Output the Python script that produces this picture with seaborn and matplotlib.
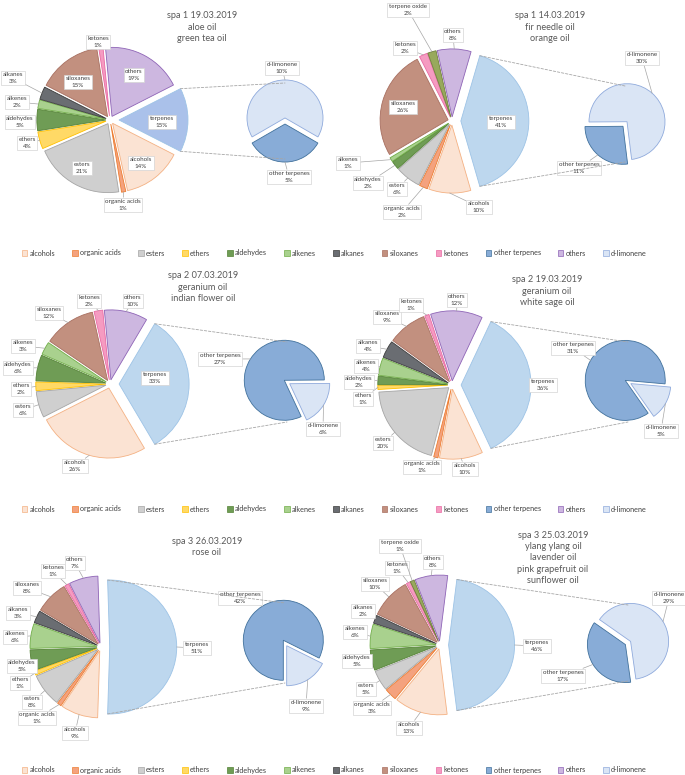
import matplotlib
matplotlib.use("Agg")
import numpy as np
import matplotlib.pyplot as plt
from matplotlib.patches import Patch, ConnectionPatch
import seaborn as sns

W, H = 685, 775

# === Data ===
categories = ["terpenes", "alcohols", "organic acids", "esters", "ethers", "aldehydes",
              "alkenes", "alkanes", "siloxanes", "ketones", "terpene oxide", "others"]
spa1_1903 = [15, 14, 1, 21, 4, 5, 2, 3, 15, 1, 0, 19]
spa1_1403 = [41, 10, 2, 6, 0, 2, 1, 0, 26, 2, 2, 8]
spa2_0703 = [33, 26, 0, 6, 2, 6, 3, 0, 12, 2, 0, 10]
spa2_1903 = [36, 10, 1, 20, 1, 2, 4, 4, 9, 1, 0, 12]
spa3_2603 = [51, 9, 1, 8, 1, 5, 6, 3, 8, 1, 0, 7]
spa3_2503 = [46, 13, 3, 5, 0, 5, 6, 2, 10, 1, 1, 8]

sub_categories = ["d-limonene", "other terpenes"]
sub_spa1_1903 = [10, 5]
sub_spa1_1403 = [30, 11]
sub_spa2_0703 = [6, 27]
sub_spa2_1903 = [5, 31]
sub_spa3_2603 = [9, 42]
sub_spa3_2503 = [29, 17]

titles = ["spa 1 19.03.2019\naloe oil\ngreen tea oil",
          "spa 1 14.03.2019\nfir needle oil\norange oil",
          "spa 2 07.03.2019\ngeranium oil\nindian flower oil",
          "spa 2 19.03.2019\ngeranium oil\nwhite sage oil",
          "spa 3 26.03.2019\nrose oil",
          "spa 3 25.03.2019\nylang ylang oil\nlavender oil\npink grapefruit oil\nsunflower oil"]

legend_names = ["alcohols", "organic acids", "esters", "ethers", "aldehydes", "alkenes",
                "alkanes", "siloxanes", "ketones", "other terpenes", "others", "d-limonene"]

# === Styles ===
FILL = {"terpenes": "#bdd7ee", "alcohols": "#fbe3d3", "organic acids": "#f4a27e",
        "esters": "#cfcfcf", "ethers": "#ffd966", "aldehydes": "#6f9c55",
        "alkenes": "#a9d18e", "alkanes": "#6a6d72", "siloxanes": "#c2907f",
        "ketones": "#f59bc1", "terpene oxide": "#98a95c", "others": "#cdb7e0",
        "d-limonene": "#dae5f5", "other terpenes": "#88acd7"}
EDGE = {"terpenes": "#9dc3e6", "alcohols": "#f4b183", "organic acids": "#ed7d31",
        "esters": "#a5a5a5", "ethers": "#ffc000", "aldehydes": "#548235",
        "alkenes": "#70ad47", "alkanes": "#3b3b3b", "siloxanes": "#a86f60",
        "ketones": "#e96aa3", "terpene oxide": "#6f7f3a", "others": "#8e64b6",
        "d-limonene": "#8faadc", "other terpenes": "#41719c"}
TEXT = "#404040"

# layout per panel (pixel positions in the 685x775 figure)
layouts = [
    dict(main=(110, 120), R=69, sec=(285, 121), r=38, sec_start=-30, title=(202, 27),
         terp="#aac1ea",
         inside={"others", "siloxanes", "esters", "alcohols", "terpenes"},
         labels={"ketones": (98, 42), "others": (134, 75), "siloxanes": (78, 82),
                 "alkanes": (13, 78), "alkenes": (17, 102), "aldehydes": (20, 122),
                 "ethers": (27, 143), "esters": (82, 168), "alcohols": (141, 163),
                 "organic acids": (123, 205), "terpenes": (162, 122),
                 "d-limonene": (282, 68), "other terpenes": (289, 177)}),
    dict(main=(452, 121), R=68, sec=(625, 124), r=38, sec_start=-83, title=(550, 27),
         terp=None, inside={"siloxanes", "terpenes"},
         labels={"terpene oxide": (408, 10), "others": (453, 35), "ketones": (405, 48),
                 "siloxanes": (403, 107), "terpenes": (501, 122), "alkenes": (348, 163),
                 "aldehydes": (368, 183), "esters": (397, 189),
                 "organic acids": (402, 212), "alcohols": (479, 207),
                 "d-limonene": (642, 58), "other terpenes": (579, 168)}),
    dict(main=(110, 384), R=70, sec=(287, 382), r=40, sec_start=-65, title=(203, 287),
         terp=None, inside={"terpenes"},
         labels={"ketones": (89, 301), "others": (133, 301), "siloxanes": (49, 313),
                 "alkenes": (23, 346), "aldehydes": (18, 368), "ethers": (21, 389),
                 "esters": (23, 410), "terpenes": (155, 378), "alcohols": (75, 466),
                 "other terpenes": (220, 359), "d-limonene": (323, 429)}),
    dict(main=(452, 385), R=70, sec=(628, 382), r=40, sec_start=-55, title=(547, 291),
         terp=None, inside=set(),
         labels={"ketones": (411, 305), "others": (457, 300), "siloxanes": (387, 317),
                 "alkanes": (368, 346), "alkenes": (366, 366), "aldehydes": (359, 382),
                 "ethers": (363, 399), "esters": (383, 443), "organic acids": (422, 467),
                 "alcohols": (465, 469), "terpenes": (543, 385),
                 "other terpenes": (573, 348), "d-limonene": (661, 431)}),
    dict(main=(101, 647), R=67, sec=(285, 643), r=40, sec_start=-90, title=(207, 547),
         terp=None, inside=set(),
         labels={"others": (75, 563), "ketones": (53, 571), "siloxanes": (27, 588),
                 "alkanes": (18, 613), "alkenes": (15, 637), "aldehydes": (22, 666),
                 "ethers": (20, 683), "esters": (32, 702), "organic acids": (37, 718),
                 "alcohols": (75, 733), "terpenes": (197, 648),
                 "other terpenes": (240, 598), "d-limonene": (306, 706)}),
    dict(main=(440, 645), R=66, sec=(628, 643), r=38, sec_start=-82, title=(553, 558),
         terp=None, inside=set(),
         labels={"terpene oxide": (400, 546), "others": (433, 562), "ketones": (397, 568),
                 "siloxanes": (375, 584), "alkanes": (363, 611), "alkenes": (355, 632),
                 "aldehydes": (357, 661), "esters": (366, 689), "organic acids": (372, 708),
                 "alcohols": (409, 728), "terpenes": (537, 646),
                 "other terpenes": (563, 676), "d-limonene": (669, 598)}),
]

sns.set_style("white")
plt.rcParams["font.family"] = ["Lato", "DejaVu Sans"]

fig = plt.figure(figsize=(W / 100, H / 100), dpi=100)

BOX = dict(boxstyle="square,pad=0.25", fc="white", ec="#d4d4d4", lw=0.5)
LEADER = dict(arrowstyle="-", color="#a6a6a6", lw=0.5, shrinkA=0, shrinkB=0)


def pie_axes(center, radius, s=1.3):
    cx, cy = center
    ax = fig.add_axes([(cx - radius * s) / W, 1 - (cy + radius * s) / H,
                       2 * radius * s / W, 2 * radius * s / H])
    return ax


def finish(ax, s=1.3):
    ax.set_xlim(-s, s)
    ax.set_ylim(-s, s)
    ax.set_aspect("equal")
    ax.axis("off")


def add_labels(ax, wedges, names, vals, lay):
    for w, n, v in zip(wedges, names, vals):
        if n not in lay["labels"]:
            continue
        x, y = lay["labels"][n]
        mid = np.deg2rad((w.theta1 + w.theta2) / 2)
        ox, oy = w.center
        edge = (ox + np.cos(mid), oy + np.sin(mid))
        arrow = None if n in lay["inside"] else LEADER
        ax.annotate(f"{n}\n{v}%", xy=edge, xycoords="data",
                    xytext=(x, H - y), textcoords="figure pixels",
                    ha="center", va="center", fontsize=4.5, color=TEXT,
                    linespacing=1.45, bbox=BOX, arrowprops=arrow,
                    annotation_clip=False, zorder=5)


def draw_panel(values, sub_values, title, lay):
    names = [c for c, v in zip(categories, values) if v > 0]
    vals = [v for v in values if v > 0]
    explode = [0.13 if n == "terpenes" else 0.06 for n in names]
    colors = [FILL[n] for n in names]
    if lay["terp"]:
        colors[0] = lay["terp"]

    ax = pie_axes(lay["main"], lay["R"])
    wedges, _ = ax.pie(vals, colors=colors, explode=explode,
                       startangle=vals[0] / sum(vals) * 180, counterclock=False,
                       wedgeprops=dict(linewidth=0.6))
    for w, n in zip(wedges, names):
        w.set_edgecolor(EDGE[n])
        w.set_clip_on(False)
    finish(ax)
    add_labels(ax, wedges, names, vals, lay)

    ax2 = pie_axes(lay["sec"], lay["r"])
    w2, _ = ax2.pie(sub_values, colors=[FILL[n] for n in sub_categories],
                    explode=[0.08, 0.08], startangle=lay["sec_start"],
                    wedgeprops=dict(linewidth=0.6))
    for w, n in zip(w2, sub_categories):
        w.set_edgecolor(EDGE[n])
        w.set_clip_on(False)
    finish(ax2)
    add_labels(ax2, w2, sub_categories, sub_values, lay)

    # dashed connectors from the terpenes slice to the secondary pie
    terp = wedges[0]
    ox, oy = terp.center
    for ang, yb in ((max(terp.theta1, terp.theta2), 1), (min(terp.theta1, terp.theta2), -1)):
        a = np.deg2rad(ang)
        con = ConnectionPatch(xyA=(ox + np.cos(a), oy + np.sin(a)), coordsA=ax.transData,
                              xyB=(0, yb), coordsB=ax2.transData,
                              color="#a6a6a6", lw=0.6, linestyle=(0, (3, 2)))
        fig.add_artist(con)

    tx, ty = lay["title"]
    fig.text(tx / W, 1 - ty / H, title, ha="center", va="center",
             fontsize=6.6, color="#595959", linespacing=1.35)


datasets = [(spa1_1903, sub_spa1_1903), (spa1_1403, sub_spa1_1403),
            (spa2_0703, sub_spa2_0703), (spa2_1903, sub_spa2_1903),
            (spa3_2603, sub_spa3_2603), (spa3_2503, sub_spa3_2503)]
for (vals, subs), title, lay in zip(datasets, titles, layouts):
    draw_panel(vals, subs, title, lay)

# legends (one per row of panels)
handles = [Patch(facecolor=FILL[n], edgecolor=EDGE[n], linewidth=0.5) for n in legend_names]
for ly in (253, 509, 770):
    fig.legend(handles, legend_names, loc="center", bbox_to_anchor=(0.488, 1 - ly / H),
               ncol=12, frameon=False, fontsize=5.2, handlelength=0.75, handleheight=0.75,
               handletextpad=0.3, columnspacing=2.4, labelcolor=TEXT)

fig.savefig("out.png", dpi=100, facecolor="white")
